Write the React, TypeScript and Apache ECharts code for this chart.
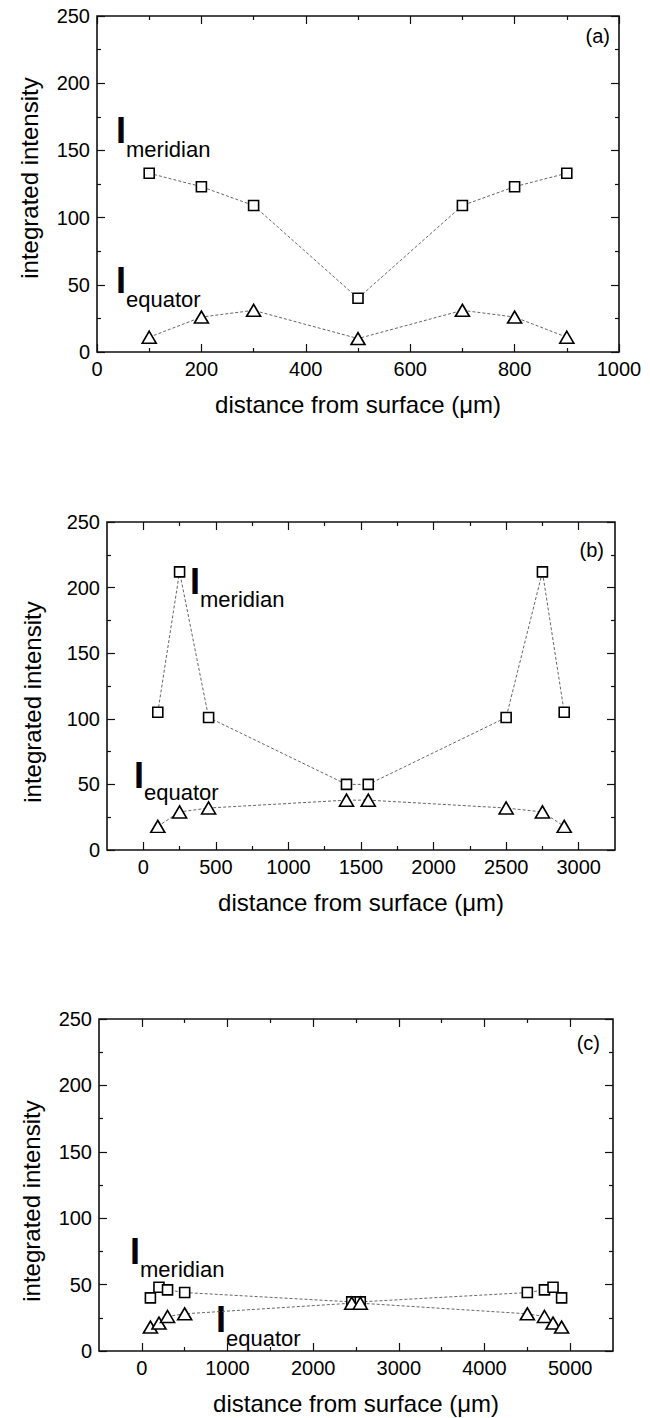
import React, { useEffect, useRef } from "react";
import * as echarts from "echarts";

const FONT = '"Liberation Sans", Arial, Helvetica, sans-serif';

// ---- data ----
const distanceA = [100, 200, 300, 500, 700, 800, 900];
const meridianA = [133, 123, 109, 40, 109, 123, 133];
const equatorA = [11, 26, 31, 10, 31, 26, 11];

const distanceB = [100, 250, 450, 1400, 1550, 2500, 2750, 2900];
const meridianB = [105, 212, 101, 50, 50, 101, 212, 105];
const equatorB = [18, 29, 32, 38, 38, 32, 29, 18];

const distanceC = [100, 200, 300, 500, 2450, 2550, 4500, 4700, 4800, 4900];
const meridianC = [40, 48, 46, 44, 37, 37, 44, 46, 48, 40];
const equatorC = [18, 21, 26, 28, 36, 36, 28, 26, 21, 18];

// ---- tick values ----
const xMajorA = [0, 200, 400, 600, 800, 1000];
const xMinorA = [100, 300, 500, 700, 900];
const xMajorB = [0, 500, 1000, 1500, 2000, 2500, 3000];
const xMinorB = [250, 750, 1250, 1750, 2250, 2750];
const xMajorC = [0, 1000, 2000, 3000, 4000, 5000];
const xMinorC = [500, 1500, 2500, 3500, 4500];
const yMajor = [0, 50, 100, 150, 200, 250];
const yMinor = [25, 75, 125, 175, 225];

const panelLabels = ["(a)", "(b)", "(c)"];
const xTitle = "distance from surface (\u03bcm)";
const yTitle = "integrated intensity";

// ---- layout (pixels) ----
const layouts = [
  { grid: { left: 97, top: 16, width: 522, height: 336 }, xMin: 0, xMax: 1000, yTitle: [29, 178], label: [610, 36],
    mer: { I: [116, 130], sub: [126, 149] }, equ: { I: [116, 280], sub: [126, 299] } },
  { grid: { left: 107, top: 522, width: 508, height: 328 }, xMin: -250, xMax: 3250, yTitle: [32, 702], label: [604, 550],
    mer: { I: [190, 581], sub: [200, 599] }, equ: { I: [134, 775], sub: [144, 792] } },
  { grid: { left: 99, top: 1019, width: 514, height: 332 }, xMin: -500, xMax: 5500, yTitle: [31, 1201], label: [600, 1043],
    mer: { I: [130, 1251], sub: [140, 1269] }, equ: { I: [216, 1319], sub: [226, 1338] } },
];

const panelData = [
  { x: distanceA, m: meridianA, e: equatorA, xMajor: xMajorA, xMinor: xMinorA },
  { x: distanceB, m: meridianB, e: equatorB, xMajor: xMajorB, xMinor: xMinorB },
  { x: distanceC, m: meridianC, e: equatorC, xMajor: xMajorC, xMinor: xMinorC },
];

function axisSet(dim: "x" | "y", g: number, min: number, max: number, major: number[], minor: number[], name?: string) {
  const positions = dim === "x" ? ["bottom", "top"] : ["left", "right"];
  const out: any[] = [];
  positions.forEach((p, pi) => {
    [major, minor].forEach((vals, vi) => {
      const main = pi === 0 && vi === 0;
      const ax: any = {
        type: "value",
        gridIndex: g,
        position: p,
        min,
        max,
        splitLine: { show: false },
        axisLine: { show: false, onZero: false },
        axisTick: {
          show: true,
          inside: true,
          length: vi === 0 ? 8 : 4,
          customValues: vals,
          lineStyle: { color: "#111", width: 1.2 },
        },
        axisLabel: main
          ? {
              show: true,
              customValues: vals,
              margin: 7,
              fontSize: 20,
              fontFamily: FONT,
              color: "#000",
              formatter: (v: number) => String(v),
            }
          : { show: false },
      };
      if (main && name) {
        ax.name = name;
        ax.nameLocation = "middle";
        ax.nameGap = 40;
        ax.nameTextStyle = { fontSize: 24, fontFamily: FONT, color: "#000" };
      }
      out.push(ax);
    });
  });
  return out;
}

function txt(text: string, x: number, y: number, size: number, opts: any = {}) {
  return {
    type: "text",
    x,
    y,
    rotation: opts.rotation || 0,
    style: {
      text,
      fontSize: size,
      fontFamily: FONT,
      fontWeight: opts.bold ? "bold" : "normal",
      lineHeight: opts.lineHeight || size,
      fill: "#000",
      align: opts.align || "left",
      textAlign: opts.align || "left",
      verticalAlign: "middle",
      textVerticalAlign: "middle",
    },
  };
}

export default function App() {
  const ref = useRef<HTMLDivElement>(null);

  useEffect(() => {
    document.body.style.margin = "0";
    const chart = echarts.init(ref.current!, null, { renderer: "svg" });

    const grids: any[] = [];
    let xAxes: any[] = [];
    let yAxes: any[] = [];
    const series: any[] = [];
    const graphics: any[] = [];

    layouts.forEach((L, g) => {
      const d = panelData[g];
      grids.push({ ...L.grid, show: true, borderColor: "#111", borderWidth: 1.6, backgroundColor: "transparent" });
      xAxes = xAxes.concat(axisSet("x", g, L.xMin, L.xMax, d.xMajor, d.xMinor, xTitle));
      yAxes = yAxes.concat(axisSet("y", g, 0, 250, yMajor, yMinor));
      const lineStyle = { color: "#555", width: 0.9, type: [3, 2] };
      series.push({
        name: "meridian " + panelLabels[g],
        type: "line",
        xAxisIndex: 4 * g,
        yAxisIndex: 4 * g,
        data: d.x.map((v, i) => [v, d.m[i]]),
        symbol: "rect",
        symbolSize: 10,
        showSymbol: true,
        lineStyle,
        itemStyle: { color: "#fff", borderColor: "#000", borderWidth: 1.6 },
        z: 3,
      });
      series.push({
        name: "equator " + panelLabels[g],
        type: "line",
        xAxisIndex: 4 * g,
        yAxisIndex: 4 * g,
        data: d.x.map((v, i) => [v, d.e[i]]),
        symbol: "triangle",
        symbolSize: [14, 12],
        showSymbol: true,
        lineStyle,
        itemStyle: { color: "#fff", borderColor: "#000", borderWidth: 1.6 },
        z: 3,
      });
      graphics.push(txt(yTitle, L.yTitle[0], L.yTitle[1], 24, { rotation: Math.PI / 2, align: "center" }));
      graphics.push(txt(panelLabels[g], L.label[0], L.label[1], 20, { align: "right" }));
      graphics.push(txt("I", L.mer.I[0], L.mer.I[1], 36, { bold: true, lineHeight: 26 }));
      graphics.push(txt("meridian", L.mer.sub[0], L.mer.sub[1], 22, { lineHeight: 18 }));
      graphics.push(txt("I", L.equ.I[0], L.equ.I[1], 36, { bold: true, lineHeight: 26 }));
      graphics.push(txt("equator", L.equ.sub[0], L.equ.sub[1], 22, { lineHeight: 18 }));
    });

    chart.setOption({
      animation: false,
      backgroundColor: "#fff",
      textStyle: { fontFamily: FONT },
      grid: grids,
      xAxis: xAxes,
      yAxis: yAxes,
      series,
      graphic: graphics,
    });

    return () => chart.dispose();
  }, []);

  return <div ref={ref} style={{ width: 650, height: 1418 }} />;
}
